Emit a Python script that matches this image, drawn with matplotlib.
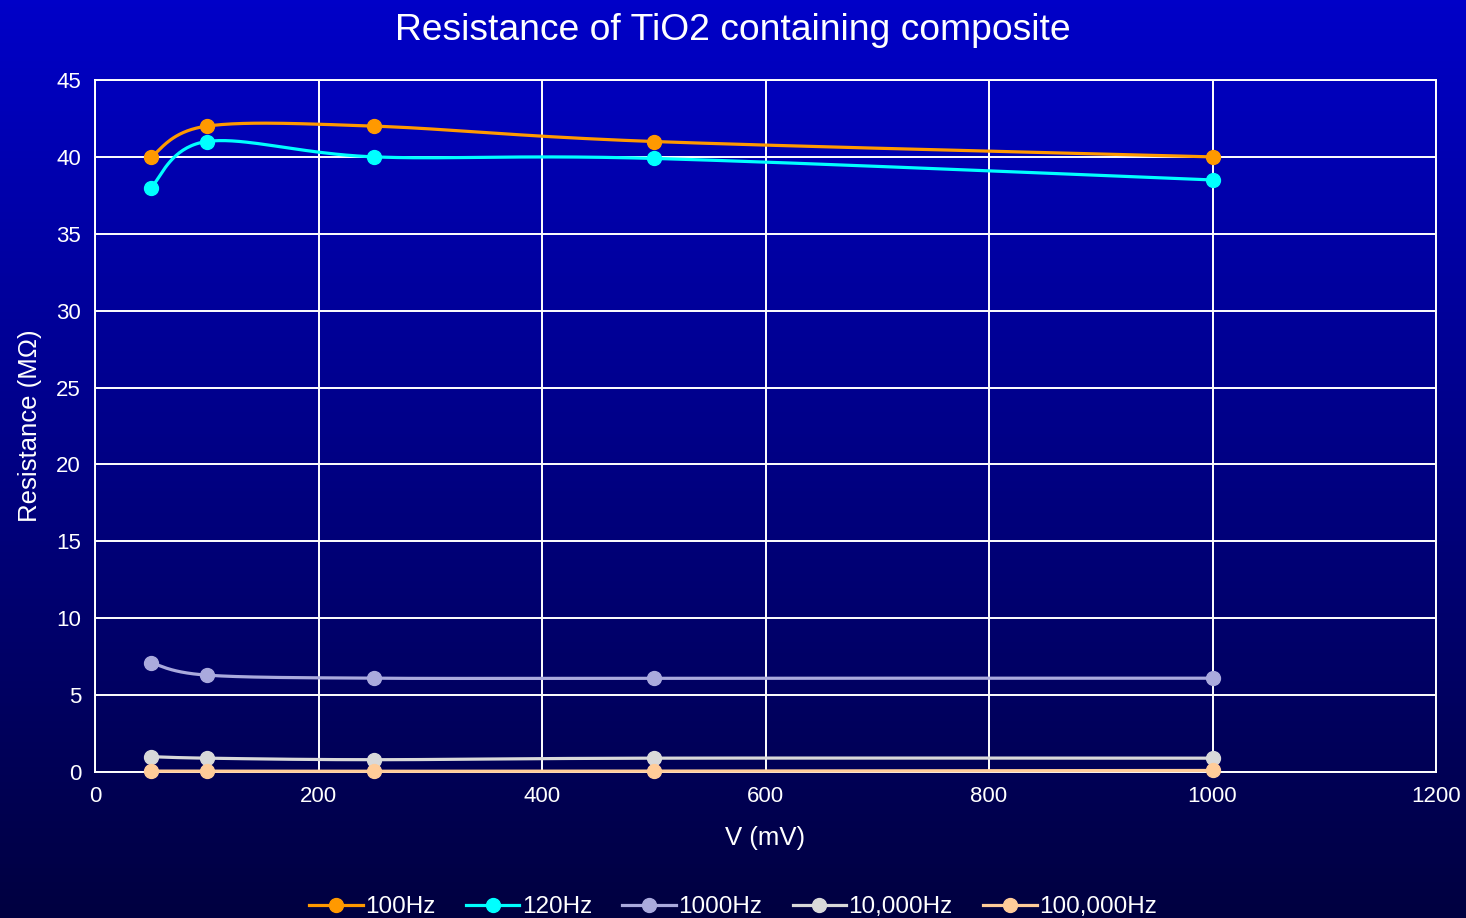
import numpy as np
import matplotlib
matplotlib.use("Agg")
import matplotlib.pyplot as plt
from matplotlib.colors import LinearSegmentedColormap

plt.rcParams['font.family'] = ['Liberation Sans', 'DejaVu Sans']

voltage = [50, 100, 250, 500, 1000]
r_100hz = [40, 42, 42, 41, 40]
r_120hz = [38, 41, 40, 39.9, 38.5]
r_1000hz = [7.1, 6.3, 6.1, 6.1, 6.1]
r_10000hz = [1.0, 0.9, 0.8, 0.9, 0.9]
r_100000hz = [0.06, 0.06, 0.05, 0.06, 0.1]

series = [
    ("100Hz", r_100hz, "#FF9900"),
    ("120Hz", r_120hz, "#00FFFF"),
    ("1000Hz", r_1000hz, "#AAAADD"),
    ("10,000Hz", r_10000hz, "#D9D9D9"),
    ("100,000Hz", r_100000hz, "#FFCC99"),
]


def smooth(xs, ys, n=40):
    xs = np.asarray(xs, float)
    ys = np.asarray(ys, float)
    P = np.column_stack([xs, ys])
    out = []
    m = len(P)
    for i in range(m - 1):
        p0 = P[i - 1] if i > 0 else P[i]
        p1 = P[i]
        p2 = P[i + 1]
        p3 = P[i + 2] if i + 2 < m else P[i + 1]
        c1 = p1 + (p2 - p0) / 6.0
        c2 = p2 - (p3 - p1) / 6.0
        t = np.linspace(0, 1, n)[:, None]
        seg = ((1 - t) ** 3) * p1 + 3 * ((1 - t) ** 2) * t * c1 + 3 * (1 - t) * t ** 2 * c2 + t ** 3 * p2
        out.append(seg if i == 0 else seg[1:])
    seg = np.vstack(out)
    return seg[:, 0], seg[:, 1]


fig = plt.figure(figsize=(14.66, 9.18), dpi=100)

# gradient background
bg = fig.add_axes([0, 0, 1, 1], zorder=-10)
cmap = LinearSegmentedColormap.from_list("bg", ["#0000C8", "#000040"])
grad = np.linspace(0, 1, 256)[:, None]
bg.imshow(grad, aspect="auto", cmap=cmap, extent=[0, 1, 0, 1], origin="upper")
bg.axis("off")

ax = fig.add_axes([95 / 1466, 1 - 772 / 918, (1436 - 95) / 1466, (772 - 80) / 918])
ax.patch.set_alpha(0)

for name, vals, col in series:
    sx, sy = smooth(voltage, vals)
    ax.plot(sx, sy, color=col, lw=2.3, zorder=3, solid_capstyle="round", clip_on=False)
    ax.plot(voltage, vals, 'o', color=col, ms=10, zorder=4, clip_on=False)
    ax.plot([], [], '-o', color=col, lw=2.3, ms=10, label=name)

ax.set_xlim(0, 1200)
ax.set_ylim(0, 45)
ax.set_xticks(range(0, 1201, 200))
ax.set_yticks(range(0, 46, 5))
ax.grid(True, color="white", lw=1.4)
ax.set_axisbelow(True)
for s in ax.spines.values():
    s.set_color("white")
    s.set_linewidth(1.4)
    s.set_zorder(2)
ax.tick_params(colors="white", labelsize=16, length=0, pad=10)

ax.set_xlabel("V (mV)", color="white", fontsize=18.5, labelpad=14)
ax.set_ylabel("Resistance (MΩ)", color="white", fontsize=18.5, labelpad=10)
fig.text(0.5, 1 - 30 / 918, "Resistance of TiO2 containing composite", color="white",
         fontsize=26.8, ha="center", va="center")

leg = fig.legend(loc="center", bbox_to_anchor=(0.5, 1 - 907 / 918), ncol=5, frameon=False,
                 fontsize=17.5, labelcolor="white", handlelength=2.2, handletextpad=0.1,
                 columnspacing=1.25)

fig.savefig("out.png", dpi=100)
